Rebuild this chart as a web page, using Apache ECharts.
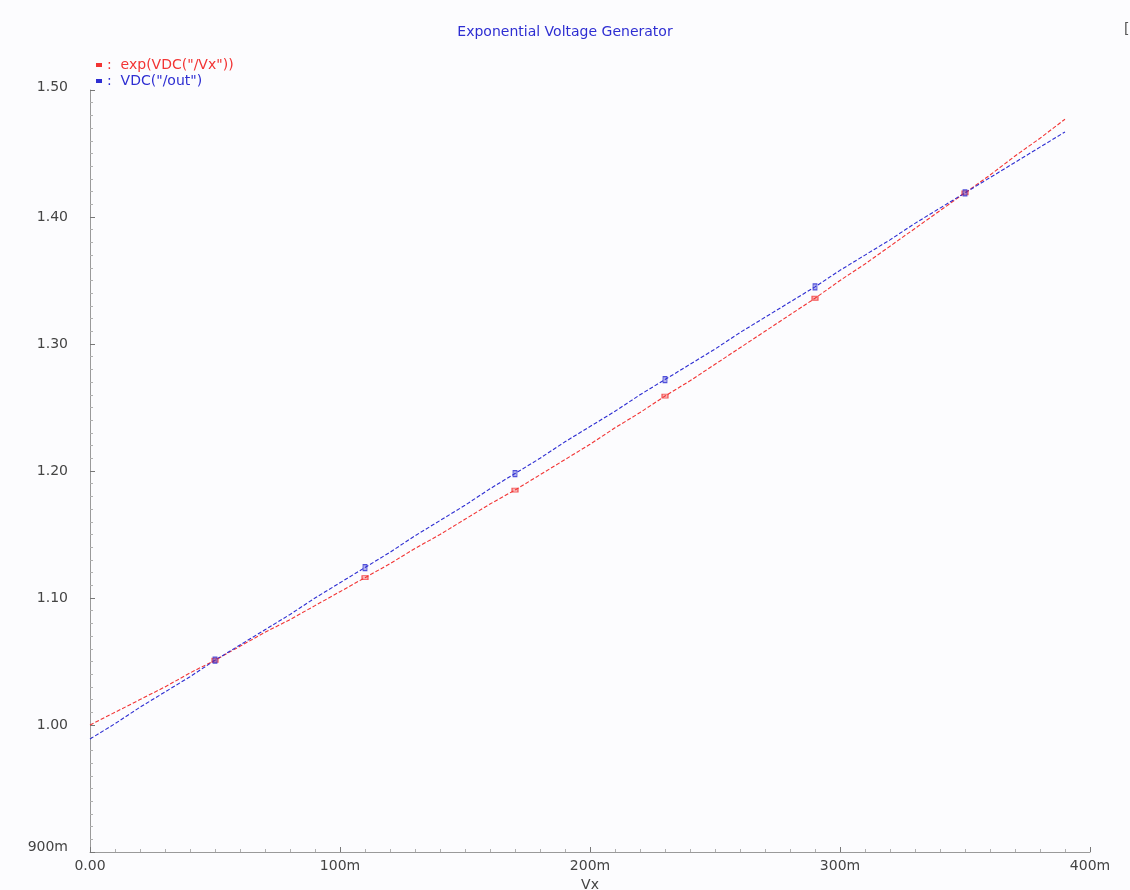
<!DOCTYPE html>
<html>
<head>
<meta charset="utf-8">
<title>Exponential Voltage Generator</title>
<script src="https://cdn.jsdelivr.net/npm/echarts@6/dist/echarts.min.js"></script>
<style>
  html, body { margin: 0; padding: 0; background: #fcfcfe; }
  #chart { width: 1130px; height: 890px; }
</style>
</head>
<body>
<div id="chart"></div>
<script>
// DC sweep of Vx (volts), 10 mV steps
const vx = [0.00, 0.01, 0.02, 0.03, 0.04, 0.05, 0.06, 0.07, 0.08, 0.09,
            0.10, 0.11, 0.12, 0.13, 0.14, 0.15, 0.16, 0.17, 0.18, 0.19,
            0.20, 0.21, 0.22, 0.23, 0.24, 0.25, 0.26, 0.27, 0.28, 0.29,
            0.30, 0.31, 0.32, 0.33, 0.34, 0.35, 0.36, 0.37, 0.38, 0.39];

// exp(VDC("/Vx"))
const expVx = [1.000, 1.010, 1.020, 1.030, 1.041, 1.051, 1.062, 1.073, 1.083, 1.094,
               1.105, 1.116, 1.127, 1.139, 1.150, 1.162, 1.174, 1.185, 1.197, 1.209,
               1.221, 1.234, 1.246, 1.259, 1.271, 1.284, 1.297, 1.310, 1.323, 1.336,
               1.350, 1.363, 1.377, 1.391, 1.405, 1.419, 1.433, 1.448, 1.462, 1.477];

// VDC("/out")
const vOut = [0.989, 1.001, 1.014, 1.026, 1.038, 1.051, 1.063, 1.075, 1.087, 1.100,
              1.112, 1.124, 1.136, 1.149, 1.161, 1.173, 1.186, 1.198, 1.210, 1.223,
              1.235, 1.247, 1.260, 1.272, 1.284, 1.296, 1.309, 1.321, 1.333, 1.345,
              1.358, 1.370, 1.382, 1.395, 1.407, 1.419, 1.431, 1.443, 1.455, 1.467];

// sweep indices that carry a trace marker
const markerIdx = [5, 11, 17, 23, 29, 35];

const seriesNames = ['exp(VDC("/Vx"))', 'VDC("/out")'];
const xTickLabels = ['0.00', '100m', '200m', '300m', '400m'];
const yTickLabels = ['900m', '1.00', '1.10', '1.20', '1.30', '1.40', '1.50'];

const RED = '#f23434';
const BLUE = '#2e2ed2';
const FONT = 'DejaVu Sans';

const pairs = (ys) => vx.map((x, i) => [x, ys[i]]);
const marks = (ys) => markerIdx.map(i => [vx[i], ys[i]]);

const axisCommon = {
  axisLine: { show: true, lineStyle: { color: '#9a9a9a', width: 1 } },
  axisTick: { show: true, inside: true, length: 5, lineStyle: { color: '#777' } },
  minorTick: { show: true, splitNumber: 10, length: 3, lineStyle: { color: '#b0b0b0' } },
  splitLine: { show: false },
  minorSplitLine: { show: false }
};

// end labels of the value axis sit slightly above their ticks
const yLabel = (v) => {
  const i = Math.round((v - 0.9) * 10);
  const t = yTickLabels[i];
  if (i === 0) return '{lo|' + t + '}';
  if (i === yTickLabels.length - 1) return '{hi|' + t + '}';
  return t;
};

const chart = echarts.init(document.getElementById('chart'), null, { renderer: 'canvas' });
chart.setOption({
  backgroundColor: '#fcfcfe',
  animation: false,
  title: {
    text: 'Exponential Voltage Generator',
    left: 'center',
    top: 20,
    textStyle: { fontFamily: FONT, fontSize: 14, fontWeight: 'normal', color: BLUE }
  },
  legend: {
    orient: 'vertical',
    left: 91,
    top: 53,
    itemGap: 2,
    itemWidth: 6,
    itemHeight: 4,
    selectedMode: false,
    formatter: (n) => ':  ' + n,
    data: [
      { name: seriesNames[0], icon: 'rect', itemStyle: { color: RED }, textStyle: { color: RED } },
      { name: seriesNames[1], icon: 'rect', itemStyle: { color: BLUE }, textStyle: { color: BLUE } }
    ],
    textStyle: { fontFamily: FONT, fontSize: 14 }
  },
  grid: { left: 90, right: 40, top: 90, bottom: 38, containLabel: false, outerBoundsMode: 'none' },
  xAxis: Object.assign({
    type: 'value',
    min: 0, max: 0.4, interval: 0.1,
    name: 'Vx',
    nameLocation: 'middle',
    nameGap: 23,
    nameTextStyle: { fontFamily: FONT, fontSize: 14, color: '#444' },
    axisLabel: {
      fontFamily: FONT, fontSize: 14, color: '#444', margin: 7,
      formatter: (v) => xTickLabels[Math.round(v * 10)]
    }
  }, axisCommon),
  yAxis: Object.assign({
    type: 'value',
    min: 0.9, max: 1.5, interval: 0.1,
    axisLabel: {
      fontFamily: FONT, fontSize: 14, color: '#444', margin: 22,
      verticalAlign: 'middle',
      formatter: yLabel,
      rich: {
        lo: { fontFamily: FONT, fontSize: 14, color: '#444', padding: [0, 0, 10, 0] },
        hi: { fontFamily: FONT, fontSize: 14, color: '#444', padding: [0, 0, 6, 0] }
      }
    }
  }, axisCommon),
  series: [
    {
      name: seriesNames[0], type: 'line', data: pairs(expVx),
      symbol: 'none', smooth: false, color: RED,
      lineStyle: { color: RED, width: 1.1, type: [4, 2] }, z: 2
    },
    {
      name: seriesNames[1], type: 'line', data: pairs(vOut),
      symbol: 'none', smooth: false, color: BLUE,
      lineStyle: { color: BLUE, width: 1.1, type: [4, 2] }, z: 3
    },
    {
      name: seriesNames[0], type: 'scatter', data: marks(expVx),
      symbol: 'rect', symbolSize: [6, 4], color: RED,
      itemStyle: { color: 'rgba(242,52,52,0.45)', borderColor: RED, borderWidth: 1 }, z: 4
    },
    {
      name: seriesNames[1], type: 'scatter', data: marks(vOut),
      symbol: 'rect', symbolSize: [4, 6], color: BLUE,
      itemStyle: { color: 'rgba(46,46,210,0.45)', borderColor: BLUE, borderWidth: 1 }, z: 5
    }
  ],
  graphic: [
    {
      type: 'text', left: 1124, top: 22,
      style: { text: '[', fontFamily: FONT, fontSize: 14, fill: '#555' }
    }
  ]
});
</script>
</body>
</html>
